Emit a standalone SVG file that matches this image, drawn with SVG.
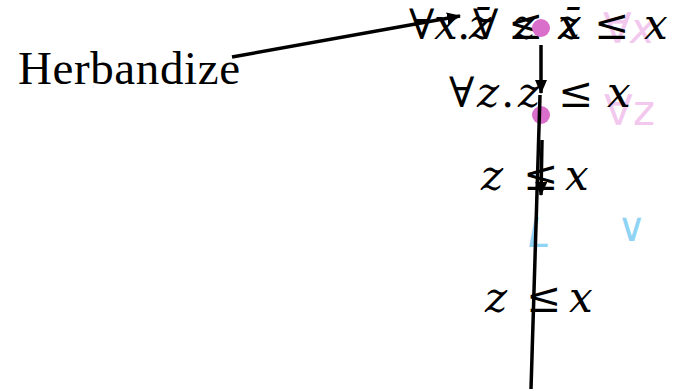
<svg xmlns="http://www.w3.org/2000/svg" width="674" height="391" viewBox="0 0 674 391">
<style>
.m{font-family:"DejaVu Serif",serif;font-size:42px;fill:#000}
.i{font-style:italic}
.lbl{font-family:"Liberation Serif",serif;font-size:47px;fill:#000}
.fp{font-family:"DejaVu Sans",sans-serif;font-size:42px;fill:#f2c8ee}
.fb{font-family:"DejaVu Sans",sans-serif;font-size:40px;fill:#8fd4f4}
.c{stroke:#000;stroke-width:3.5;fill:none}
.dot{fill:#d96fcb}
</style>
<defs>
<marker id="ah" markerWidth="14" markerHeight="12" refX="13" refY="6" orient="auto" markerUnits="userSpaceOnUse">
<path d="M0,0 L14,6 L0,12 z" fill="#000"/>
</marker>
</defs>
<rect width="674" height="391" fill="#fff"/>
<g id="herbandize"><text class="lbl" x="18" y="84" textLength="222">Herbandize</text></g>
<g id="n1">
<text class="fp" y="43"><tspan x="603">∀</tspan><tspan class="i" x="630">x</tspan></text>
<text class="m" y="39"><tspan x="409">∀</tspan><tspan class="i" x="434">x</tspan><tspan x="457">.</tspan><tspan x="473">∀</tspan><tspan class="i" x="513">z</tspan><tspan class="i" x="558">z</tspan><tspan x="594">≤</tspan><tspan class="i" x="644">x</tspan></text>
<text class="m" y="39"><tspan class="i" x="469">z̄</tspan><tspan x="508">≤</tspan><tspan class="i" x="558">x̄</tspan></text>
<circle class="dot" cx="541" cy="28" r="9"/>
</g>
<g id="n2">
<text class="fp" y="125"><tspan x="604">∀</tspan><tspan x="633">z</tspan></text>
<text class="m" y="107"><tspan x="449">∀</tspan><tspan class="i" x="477">z</tspan><tspan x="501">.</tspan><tspan class="i" x="518">z</tspan><tspan x="558">≤</tspan><tspan class="i" x="607">x</tspan></text>
<circle class="dot" cx="541" cy="115" r="9"/>
</g>
<g id="n3">
<text class="m" y="190"><tspan class="i" x="481">z</tspan><tspan x="523">≤</tspan><tspan class="i" x="565">x</tspan></text>
</g>
<g id="n4">
<text class="fb i" x="528" y="247" font-family="DejaVu Serif" font-style="italic">L</text>
<text class="fb" x="617" y="241">∨</text>
</g>
<g id="n5">
<text class="m" y="312"><tspan class="i" x="485">z</tspan><tspan x="526">≤</tspan><tspan class="i" x="569">x</tspan></text>
</g>
<g id="connectors">
<line class="c" x1="232" y1="57" x2="460" y2="16" marker-end="url(#ah)"/>
<line class="c" x1="541" y1="45" x2="541" y2="93" marker-end="url(#ah)"/>
<line class="c" x1="542" y1="140" x2="541" y2="195" marker-end="url(#ah)"/>
<line class="c" x1="540" y1="95" x2="531" y2="389"/>
</g>
</svg>
